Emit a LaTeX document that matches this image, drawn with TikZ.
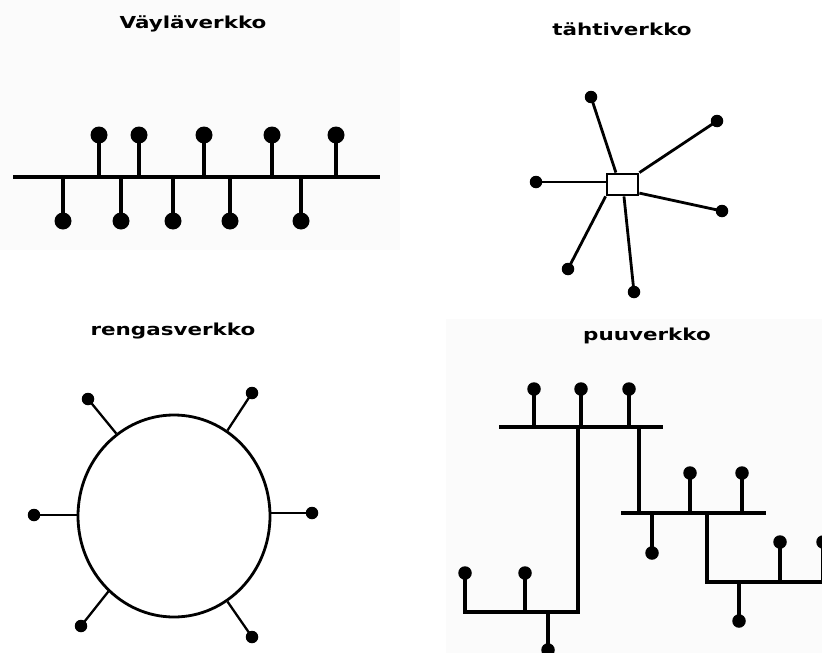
\documentclass[tikz,border=0pt]{standalone}
\usepackage{fontspec}
\setmainfont{DejaVu Sans}
\usetikzlibrary{shapes.geometric}

\tikzset{
  title/.style={font=\bfseries\fontsize{16.5}{19}\selectfont, anchor=base, inner sep=0pt, xscale=1.3},
  wire/.style={line width=3.4pt},
  thinwire/.style={line width=2.8pt},
  busdot/.style={circle, fill=black, inner sep=0pt, minimum size=17pt},
  smalldot/.style={circle, fill=black, inner sep=0pt, minimum size=12.5pt},
  treedot/.style={circle, fill=black, inner sep=0pt, minimum size=13.5pt},
  panel/.style={fill=black!1.5, draw=none},
}

\begin{document}
\begin{tikzpicture}[x=1pt, y=-1pt]
\useasboundingbox (0,0) rectangle (822,653);
\clip (0,0) rectangle (822,653);
\fill[white] (0,0) rectangle (822,653);
\path[panel] (0,0) rectangle (400,250);
\path[panel] (446,319) rectangle (822,653);

% ---------- bus network ----------
\node[title] (tbus) at (193,28) {Väyläverkko};
\coordinate (busL) at (13,177);
\coordinate (busR) at (380,177);
\draw[wire] (busL) -- (busR);
\foreach \x [count=\i] in {99,139,204,272,336} {
  \node[busdot] (bu\i) at (\x,135) {};
  \draw[wire] (bu\i.center) -- (bu\i.center |- busL);
}
\foreach \x [count=\i] in {63,121,173,230,301} {
  \node[busdot] (bd\i) at (\x,221) {};
  \draw[wire] (bd\i.center) -- (bd\i.center |- busL);
}

% ---------- star network ----------
\node[title] (tstar) at (622,35) {tähtiverkko};
\node[draw, line width=2.8pt, minimum width=31pt, minimum height=21pt, inner sep=0pt] (hub) at (622.5,184.5) {};
\node[smalldot] (s1) at (591,97) {};
\node[smalldot] (s2) at (717,121) {};
\node[smalldot] (s3) at (536,182) {};
\node[smalldot] (s4) at (722,211) {};
\node[smalldot] (s5) at (568,269) {};
\node[smalldot] (s6) at (634,292) {};
\draw[thinwire] (s1.center) -- (hub.119);
\draw[thinwire] (s2.center) -- (hub.north east);
\draw[thinwire] (s3.center) -- (s3.center -| hub.west);
\draw[thinwire] (s4.center) -- (hub.-27);
\draw[thinwire] (s5.center) -- (hub.south west);
\draw[thinwire] (s6.center) -- (hub.-83);

% ---------- ring network ----------
\node[title] (tring) at (173,335) {rengasverkko};
\node[draw, ellipse, line width=2.8pt, minimum width=192pt, minimum height=202pt, inner sep=0pt] (ring) at (174,516) {};
\node[smalldot] (r1) at (34,515) {};
\node[smalldot] (r2) at (312,513) {};
\node[smalldot] (r3) at (88,399) {};
\node[smalldot] (r4) at (252,393) {};
\node[smalldot] (r5) at (81,626) {};
\node[smalldot] (r6) at (252,637) {};
\draw[thinwire] (r1.center) -- (r1.center -| ring.west);
\draw[thinwire] (r2.center) -- (r2.center -| ring.east);
\draw[line width=2.3pt] (r3.center) -- (ring.125);
\draw[line width=2.3pt] (r4.center) -- (ring.58);
\draw[line width=2.3pt] (r5.center) -- (ring.229);
\draw[line width=2.3pt] (r6.center) -- (ring.-58);

% ---------- tree network ----------
\node[title] (ttree) at (647,340) {puuverkko};
% top level
\coordinate (aL) at (499,427);
\coordinate (aR) at (663,427);
\draw[wire] (aL) -- (aR);
\foreach \x [count=\i] in {534,581,629} {
  \node[treedot] (ta\i) at (\x,389) {};
  \draw[wire] (ta\i.center) -- (ta\i.center |- aL);
}
% lower-left branch
\coordinate (bJ) at (578,427);
\coordinate (bR) at (578,612);
\node[treedot] (tb1) at (465,573) {};
\node[treedot] (tb2) at (525,573) {};
\node[treedot] (tb3) at (548,650) {};
\draw[wire] (bJ) -- (bR) -- (bR -| tb1.center) -- (tb1.center);
\draw[wire] (tb2.center) -- (tb2.center |- bR);
\draw[wire] (tb3.center) -- (tb3.center |- bR);
% middle branch
\coordinate (cJ) at (639,427);
\coordinate (cL) at (621,513);
\coordinate (cR) at (766,513);
\draw[wire] (cJ) -- (cJ |- cL);
\draw[wire] (cL) -- (cR);
\node[treedot] (tc1) at (690,473) {};
\node[treedot] (tc2) at (742,473) {};
\node[treedot] (tc3) at (652,553) {};
\foreach \n in {tc1,tc2,tc3} {
  \draw[wire] (\n.center) -- (\n.center |- cL);
}
% lower-right branch
\coordinate (dJ) at (707,513);
\coordinate (dL) at (707,582);
\coordinate (dR) at (830,582);
\draw[wire] (dJ) -- (dL) -- (dR);
\node[treedot] (td1) at (780,542) {};
\node[treedot] (td2) at (823,542) {};
\node[treedot] (td3) at (739,621) {};
\foreach \n in {td1,td2,td3} {
  \draw[wire] (\n.center) -- (\n.center |- dL);
}
\end{tikzpicture}
\end{document}
